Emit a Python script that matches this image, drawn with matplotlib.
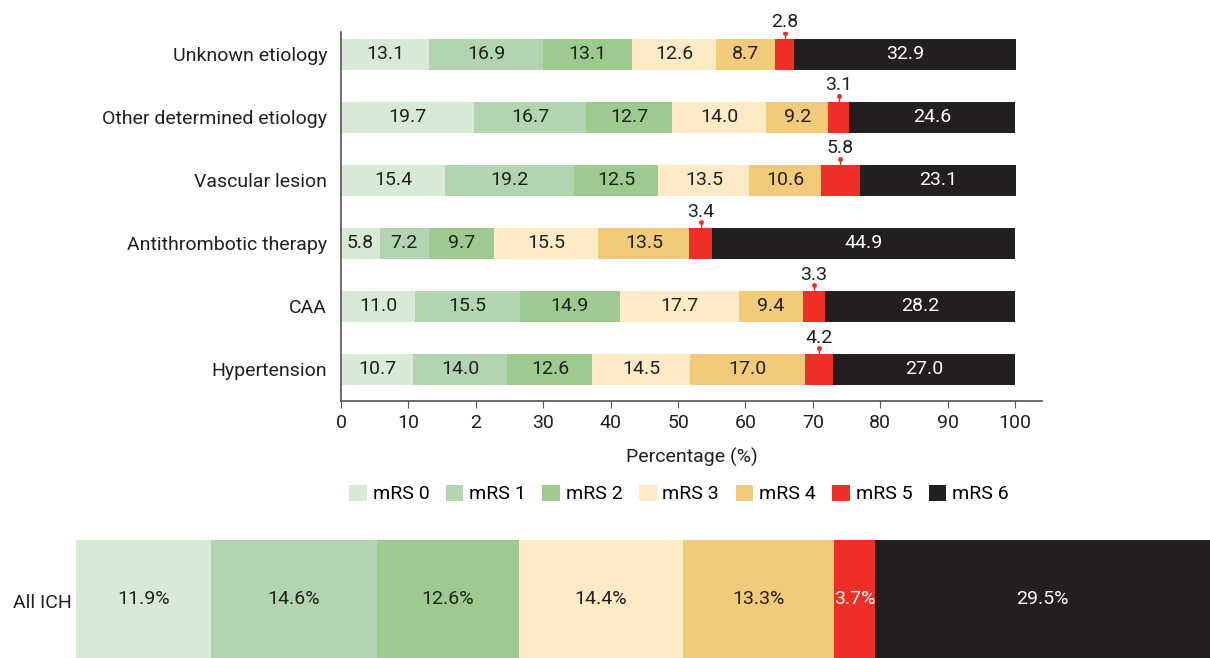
import matplotlib
matplotlib.use("Agg")
import matplotlib.pyplot as plt
from matplotlib import font_manager as fm
import numpy as np

names = {f.name for f in fm.fontManager.ttflist}
FONT = "Liberation Sans Narrow" if "Liberation Sans Narrow" in names else "Roboto"
plt.rcParams['font.family'] = [FONT, 'DejaVu Sans']

categories = ["Hypertension", "CAA", "Antithrombotic therapy", "Vascular lesion",
              "Other determined etiology", "Unknown etiology"]
levels = ["mRS 0", "mRS 1", "mRS 2", "mRS 3", "mRS 4", "mRS 5", "mRS 6"]
values = {
    "Hypertension":             [10.7, 14.0, 12.6, 14.5, 17.0, 4.2, 27.0],
    "CAA":                      [11.0, 15.5, 14.9, 17.7, 9.4, 3.3, 28.2],
    "Antithrombotic therapy":   [5.8, 7.2, 9.7, 15.5, 13.5, 3.4, 44.9],
    "Vascular lesion":          [15.4, 19.2, 12.5, 13.5, 10.6, 5.8, 23.1],
    "Other determined etiology":[19.7, 16.7, 12.7, 14.0, 9.2, 3.1, 24.6],
    "Unknown etiology":         [13.1, 16.9, 13.1, 12.6, 8.7, 2.8, 32.9],
}
all_ich = [11.9, 14.6, 12.6, 14.4, 13.3, 3.7, 29.5]
xticks = [0, 10, 20, 30, 40, 50, 60, 70, 80, 90, 100]
xticklabels = ["0", "10", "2", "30", "40", "50", "60", "70", "80", "90", "100"]

colors = ["#d7ead6", "#b3d4b0", "#9dca8f", "#fdebc6", "#f1cb79", "#ef2e26", "#231f20"]
text_colors = ["#231f20"] * 5 + ["#ffffff", "#ffffff"]
FS = 14

fig = plt.figure(figsize=(12.1, 6.58), dpi=100)
ax = fig.add_axes([341/1210, 1-401/658, 701/1210, 369/658])

y = np.arange(len(categories))
for i, cat in enumerate(categories):
    left = 0.0
    for j, v in enumerate(values[cat]):
        ax.barh(i, v, left=left, height=0.49, color=colors[j], linewidth=0,
                label=levels[j] if i == 0 else None)
        cx = left + v / 2
        if j == 5:
            top = i + 0.245
            ax.plot([cx, cx], [top, top + 0.09], color=colors[5], lw=1)
            ax.plot([cx], [top + 0.09], marker='o', ms=2.5, color=colors[5])
            ax.text(cx, top + 0.12, f"{v:.1f}", ha='center', va='bottom',
                    fontsize=FS, color="#231f20")
        else:
            ax.text(cx, i, f"{v:.1f}", ha='center', va='center', fontsize=FS,
                    color="#ffffff" if j == 6 else "#231f20")
        left += v

ax.set_xlim(0, 104)
ax.set_ylim(-0.5, 5.357)
ax.set_yticks(y)
ax.set_yticklabels(categories, fontsize=FS, color="#231f20")
ax.set_xticks(xticks)
ax.set_xticklabels(xticklabels, fontsize=FS, color="#231f20")
ax.tick_params(axis='y', length=0, pad=10)
ax.tick_params(axis='x', length=5, color="#555555", pad=4)
for s in ["top", "right"]:
    ax.spines[s].set_visible(False)
for s in ["left", "bottom"]:
    ax.spines[s].set_color("#555555")
    ax.spines[s].set_linewidth(1.2)
ax.set_xlabel("Percentage (%)", fontsize=FS, color="#231f20", labelpad=12)

handles, labels = ax.get_legend_handles_labels()
fig.legend(handles, labels, loc='center', bbox_to_anchor=(679/1210, 1-494/658),
           ncol=7, frameon=False, fontsize=FS, handlelength=0.9, handleheight=0.9,
           handletextpad=0.3, columnspacing=0.85)

ax2 = fig.add_axes([76/1210, 0, 1134/1210, 118/658])
left = 0.0
for j, v in enumerate(all_ich):
    ax2.barh(0, v, left=left, height=1.0, color=colors[j], linewidth=0)
    ax2.text(left + v / 2, 0, f"{v:.1f}%", ha='center', va='center', fontsize=FS,
             color=text_colors[j])
    left += v
ax2.set_xlim(0, 100)
ax2.set_ylim(-0.5, 0.5)
ax2.axis('off')
fig.text(42/1210, 1-603/658, "All ICH", ha='center', va='center', fontsize=FS,
         color="#231f20")

fig.savefig("out.png", dpi=100)
